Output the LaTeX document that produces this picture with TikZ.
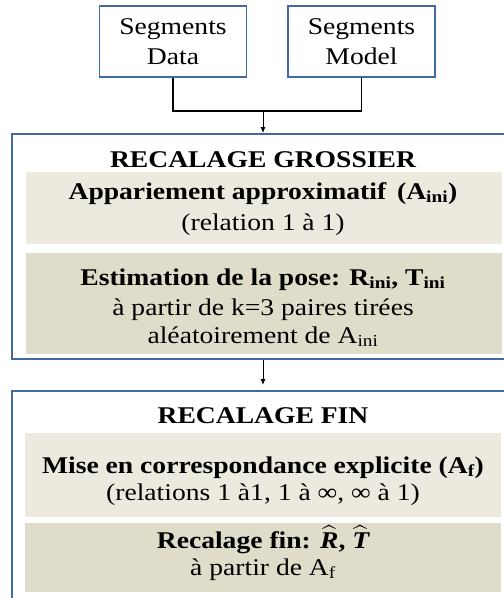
\documentclass[tikz,border=0pt]{standalone}
\usepackage{amsmath}
\usepackage{fontspec}
\setmainfont{Liberation Serif}[FakeStretch=1.15]
\usetikzlibrary{arrows.meta}
\definecolor{boxblue}{HTML}{4369A2}
\definecolor{lightfill}{HTML}{ECE9DF}
\definecolor{darkfill}{HTML}{DFDCCA}
\newcommand\mysub[1]{$_{\text{#1}}$}
\tikzset{
  big/.style={font=\fontsize{24}{30}\selectfont},
  topbox/.style={draw=boxblue, line width=1.8pt, fill=white, big, align=center,
    inner sep=0pt, minimum width=147pt, minimum height=71pt},
  outerbox/.style={draw=boxblue, line width=1.8pt, inner sep=0pt},
  panel/.style={inner sep=0pt, draw=none},
  line/.style={big, anchor=base, inner sep=0pt},
  headline/.style={line, font=\fontsize{24}{30}\selectfont\bfseries},
  conn/.style={line width=1.5pt, black},
  arr/.style={line width=1pt, black, -{Latex[length=6pt,width=5pt]}}
}
\begin{document}
\begin{tikzpicture}[x=1pt,y=-1pt]
\useasboundingbox (0,0) rectangle (504,598);
\clip (0,0) rectangle (504,598);
% outer boxes
\node[outerbox, minimum width=504pt, minimum height=225pt] (gro) at (264,246.5) {};
\node[outerbox, minimum width=504pt, minimum height=229pt] (fin) at (264,505.5) {};
% panels
\node[panel, fill=lightfill, minimum width=476pt, minimum height=72pt] (p1) at (264,208) {};
\node[panel, fill=darkfill, minimum width=476pt, minimum height=101pt] (p2) at (264,303.5) {};
\node[panel, fill=lightfill, minimum width=476pt, minimum height=84pt] (p3) at (263,475) {};
\node[panel, fill=darkfill, minimum width=476pt, minimum height=69pt] (p4) at (263,557.5) {};
% texts
\node[headline] (t1) at (263,167) {RECALAGE GROSSIER};
\node[headline] (t2) at (263,199) {Appariement approximatif\, (A\mysub{ini})};
\node[line] (t3) at (263,230) {(relation 1 à 1)};
\node[headline] (t4) at (263,285) {Estimation de la pose: R\mysub{ini}, T\mysub{ini}};
\node[line] (t5) at (263,315) {à partir de k=3 paires tirées};
\node[line] (t6) at (263,343) {aléatoirement de A\mysub{ini}};
\node[headline] (t7) at (263,423) {RECALAGE FIN};
\node[headline] (t8) at (263,473) {Mise en correspondance explicite (A\mysub{f})};
\node[line] (t9) at (263,500) {(relations 1 à1, 1 à ∞, ∞ à 1)};
\node[headline] (t10) at (263,548) {Recalage fin: $\widehat{\text{\bfseries\itshape R}}$, $\widehat{\text{\bfseries\itshape T}}$};
\node[line] (t11) at (263,575) {à partir de A\mysub{f}};
% top boxes
\node[topbox] (data) at (173,41.5) {Segments\\Data};
\node[topbox] (model) at (361.5,41.5) {Segments\\Model};
% connectors
\coordinate (j) at (263,111);
\coordinate (a2end) at (263,385);
\draw[conn] (data.south) -- (data.south |- j) -| (model.south);
\draw[arr] (j) -- (j |- gro.north);
\draw[arr] (gro.south -| j) -- (a2end);
\end{tikzpicture}
\end{document}
